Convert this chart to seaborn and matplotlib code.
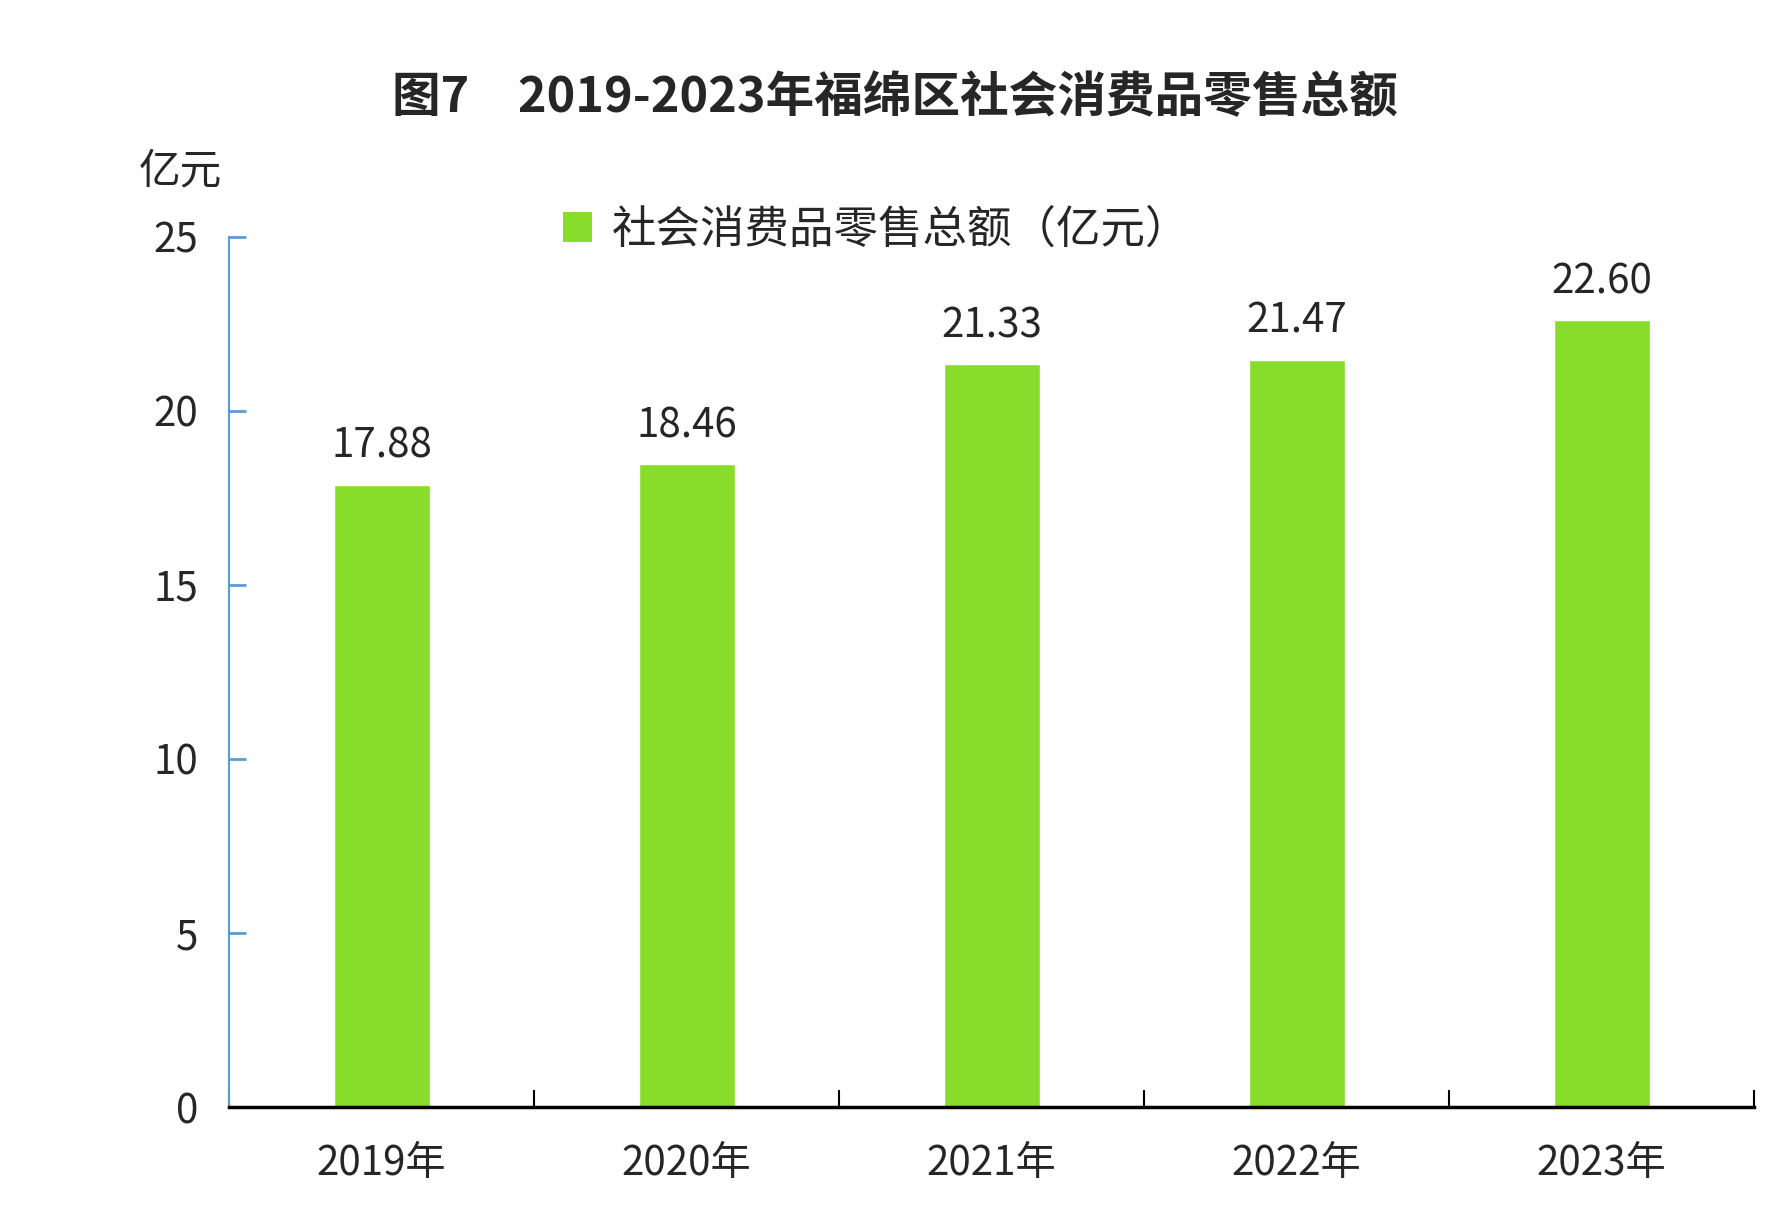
import numpy as np
import pandas as pd
import matplotlib
matplotlib.use("Agg")
import matplotlib.pyplot as plt
import seaborn as sns
from matplotlib.patches import Patch

# values
years = ['2019年', '2020年', '2021年', '2022年', '2023年']
sales = [17.88, 18.46, 21.33, 21.47, 22.60]
yticks = [0, 5, 10, 15, 20, 25]
series_name = '社会消费品零售总额（亿元）'
title = '图7　2019-2023年福绵区社会消费品零售总额'
unit = '亿元'

bar_color = '#88DC2A'
axis_blue = '#5B9BD5'

sns.set_style('white')
plt.rcParams['font.family'] = ['Noto Sans CJK SC', 'DejaVu Sans']

df = pd.DataFrame({'year': years, 'sales': sales})

fig = plt.figure(figsize=(17.9, 12.2), dpi=100)
ax = fig.add_axes([0.128, 0.0925, 0.852, 0.7135])

sns.barplot(data=df, x='year', y='sales', color=bar_color, width=0.314,
            saturation=1, ax=ax)

ax.set_ylim(0, 25)
ax.set_xlim(-0.5, len(years) - 0.5)
ax.set_xlabel('')
ax.set_ylabel('')

# y axis: blue line, inward ticks
ax.set_yticks(yticks)
ax.set_yticklabels([str(t) for t in yticks])
ax.tick_params(axis='y', left=True, direction='in', length=12, width=2,
               color=axis_blue, pad=22, labelsize=29)

# x axis: ticks at category boundaries, labels at centers
ax.set_xticks(np.arange(-0.5, len(years), 1.0))
ax.set_xticklabels([])
ax.set_xticks(np.arange(len(years)), minor=True)
ax.set_xticklabels(years, minor=True)
ax.tick_params(axis='x', which='major', bottom=True, direction='in',
               length=12, width=1.5, color='black')
ax.tick_params(axis='x', which='minor', bottom=True, length=0, pad=26,
               labelsize=29)

for side in ['top', 'right']:
    ax.spines[side].set_visible(False)
ax.spines['left'].set_color(axis_blue)
ax.spines['left'].set_linewidth(1.5)
ax.spines['bottom'].set_color('black')
ax.spines['bottom'].set_linewidth(2.5)

ax.bar_label(ax.containers[0], labels=[f'{v:.2f}' for v in sales],
             padding=13, fontsize=29)

fig.text(0.5, 0.92, title, ha='center', va='center', fontsize=35,
         fontweight='bold')
fig.text(0.101, 0.859, unit, ha='center', va='center', fontsize=30)

handle = Patch(facecolor=bar_color, edgecolor='none')
fig.legend([handle], [series_name], loc='center',
           bbox_to_anchor=(0.49, 0.812), frameon=False, fontsize=32,
           handlelength=0.65, handleheight=0.65, handletextpad=0.45)

fig.savefig('out.png', dpi=100, facecolor='white')
